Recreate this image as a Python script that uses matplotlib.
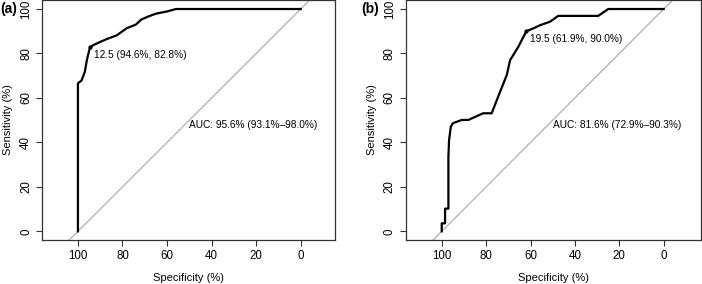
import numpy as np
import matplotlib.pyplot as plt

plt.rcParams['font.family'] = ['Liberation Sans', 'DejaVu Sans']

# panel (a) ROC curve, specificity / sensitivity in %
spec_a = [100, 100, 98.4, 96.9, 96.0, 94.6, 93.0, 90.0, 87.0, 82.5, 80.0, 78.0,
          74.0, 71.5, 68.5, 65.0, 60.0, 56.0, 0]
sens_a = [0, 66.6, 67.8, 71.8, 77.0, 82.8, 83.8, 85.2, 86.5, 88.2, 90.0, 91.4,
          93.0, 95.3, 96.6, 97.9, 98.9, 100, 100]

# panel (b)
spec_b = [100, 100, 98.5, 98.5, 97.0, 97.0, 96.7, 95.9, 95.0, 91.0, 88.0, 86.5,
          81.3, 77.5, 73.7, 70.7, 69.2, 65.5, 61.9, 58.7, 55.7, 51.2, 47.5,
          29.5, 25.0, 0]
sens_b = [0, 3.6, 3.6, 10.2, 10.2, 33.6, 41.0, 47.1, 48.6, 50.1, 50.1, 50.8,
          53.1, 53.1, 62.8, 70.3, 77.0, 83.0, 90.0, 91.3, 92.7, 94.3, 96.9,
          96.9, 100, 100]

thres_a = ('12.5', 94.6, 82.8)
thres_b = ('19.5', 61.9, 90.0)
auc_a = 'AUC: 95.6% (93.1%\u201398.0%)'
auc_b = 'AUC: 81.6% (72.9%\u201390.3%)'

W, H = 702, 284
fig = plt.figure(figsize=(W / 100, H / 100), dpi=100)
ax1 = fig.add_axes([42.3 / W, 44 / H, 292.7 / W, 240 / H])
ax2 = fig.add_axes([406 / W, 44 / H, 295 / W, 240 / H])


def draw_roc(ax, spec, sens, thres, auc, xlim, tag):
    ax.plot([130, -30], [-30, 130], color='#b0b0b0', lw=0.9, zorder=1)
    ax.plot(spec, sens, color='black', lw=1.6, zorder=2)
    name, tx, ty = thres
    ax.plot([tx], [ty], 'o', color='black', ms=2, zorder=3)
    ax.annotate('%s (%.1f%%, %.1f%%)' % (name, tx, ty), (tx, ty),
                xytext=(3, -2), textcoords='offset points',
                ha='left', va='top', fontsize=7.3)
    ax.text(50, 50, auc, ha='left', va='top', fontsize=7.3)
    ax.set_xlim(*xlim)
    ax.set_ylim(-3.9, 104.05)
    ax.set_xticks([100, 80, 60, 40, 20, 0])
    ax.set_yticks([0, 20, 40, 60, 80, 100])
    ax.tick_params(labelsize=8.3, length=4.3, width=0.8, color='#333333', pad=3)
    for lab in ax.get_yticklabels():
        lab.set_rotation(90)
        lab.set_va('center')
    for s in ax.spines.values():
        s.set_color('#333333')
        s.set_linewidth(0.9)
    ax.set_xlabel('Specificity (%)', fontsize=8, labelpad=8)
    ax.set_ylabel('Sensitivity (%)', fontsize=8, labelpad=5)
    pos = ax.get_position()
    fig.text(pos.x0 - (42 / W if tag == '(a)' else 45 / W), 1 - 2 / H, tag,
             ha='left', va='top', fontsize=10, fontweight='bold')


draw_roc(ax1, spec_a, sens_a, thres_a, auc_a, (116.0, -15.4), '(a)')
draw_roc(ax2, spec_b, sens_b, thres_b, auc_b, (116.1, -16.8), '(b)')

fig.savefig('out.png', dpi=100)
